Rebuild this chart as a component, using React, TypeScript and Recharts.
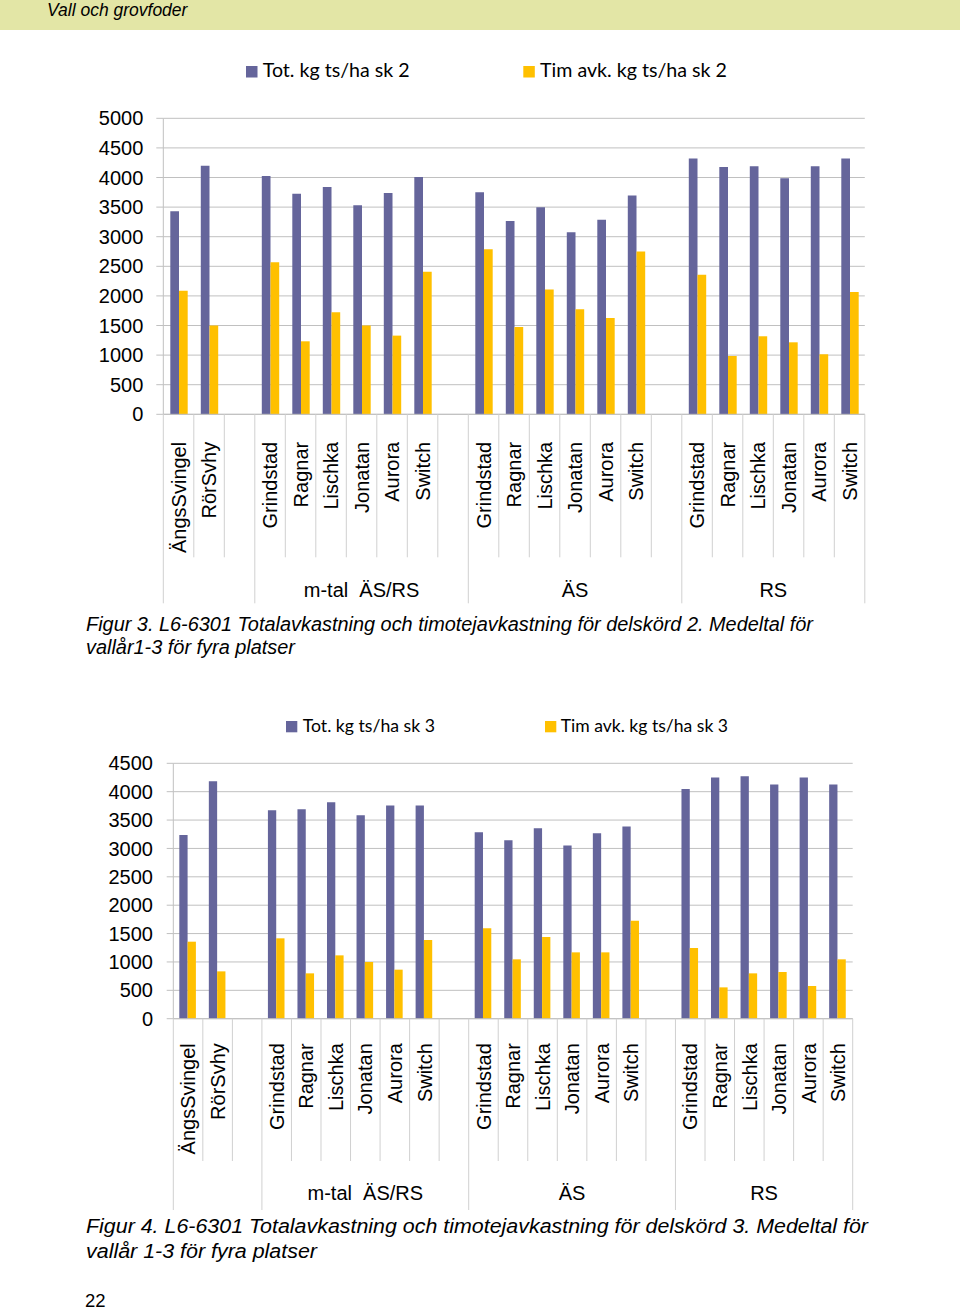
import React from 'react';
import { BarChart, Bar, XAxis, YAxis, CartesianGrid, Legend } from 'recharts';

// ---- data ----
const categories = [
  'ÄngsSvingel', 'RörSvhy', '',
  'Grindstad', 'Ragnar', 'Lischka', 'Jonatan', 'Aurora', 'Switch', '',
  'Grindstad', 'Ragnar', 'Lischka', 'Jonatan', 'Aurora', 'Switch', '',
  'Grindstad', 'Ragnar', 'Lischka', 'Jonatan', 'Aurora', 'Switch',
];
const groupLabels = ['', 'm-tal  ÄS/RS', 'ÄS', 'RS'];
const groupSizes = [3, 7, 7, 6];

const totSk2 = [3429, 4200, null, 4026, 3727, 3840, 3530, 3739, 4009, null, 3750, 3266, 3497, 3074, 3288, 3694, null, 4319, 4178, 4189, 3986, 4189, 4319];
const timSk2 = [2089, 1498, null, 2568, 1233, 1723, 1498, 1329, 2410, null, 2787, 1475, 2106, 1774, 1627, 2748, null, 2359, 985, 1318, 1216, 1014, 2066];
const totSk3 = [3237, 4184, null, 3672, 3690, 3813, 3584, 3755, 3755, null, 3285, 3144, 3355, 3050, 3267, 3385, null, 4049, 4249, 4272, 4125, 4249, 4125];
const timSk3 = [1357, 834, null, 1416, 799, 1116, 999, 864, 1387, null, 1592, 1046, 1440, 1169, 1169, 1728, null, 1246, 552, 799, 823, 576, 1046];

const yTicksSk2 = [0, 500, 1000, 1500, 2000, 2500, 3000, 3500, 4000, 4500, 5000];
const yTicksSk3 = [0, 500, 1000, 1500, 2000, 2500, 3000, 3500, 4000, 4500];

const namesSk2 = ['Tot. kg ts/ha sk 2', 'Tim avk. kg ts/ha sk 2'];
const namesSk3 = ['Tot. kg ts/ha sk 3', 'Tim avk. kg ts/ha sk 3'];

// ---- styles ----
const BLUE = '#65659b';
const YELLOW = '#ffc000';
const GRID = '#c0c0c0';
const SEP = '#d0d0d0';
const BAND = '#e3e6a6';
const ARIAL = '"Liberation Sans", Arial, Helvetica, sans-serif';
const CALIBRI = 'Lato, "Open Sans", sans-serif';

const groupStarts: number[] = groupSizes.reduce((acc: number[], s, i) => {
  acc.push(i === 0 ? 0 : acc[i - 1] + groupSizes[i - 1]);
  return acc;
}, []);

const buildRows = (tot: (number | null)[], tim: (number | null)[]) =>
  categories.map((name, i) => ({ key: `c${i}`, name, tot: tot[i], tim: tim[i] }));

type Cfg = {
  top: number;
  height: number;
  marginTop: number;
  marginLeft: number;
  marginRight: number;
  yAxisWidth: number;
  xAxisHeight: number;
  yMax: number;
  yTicks: number[];
  yTickSize: number;
  yTickMargin: number;
  barSize: number;
  catLen: number;
  groupLen: number;
  labelOff: number;
  groupBase: number;
  legendSq: number[][];
  legendText: number[][];
  legendBase: number;
  legendSize: number;
  legendFont: number;
  names: string[];
  tot: (number | null)[];
  tim: (number | null)[];
};

const W = 960;
const SERIES_COLORS = [BLUE, YELLOW];

function ChartBlock({ cfg }: { cfg: Cfg }) {
  const data = buildRows(cfg.tot, cfg.tim);
  const plotW = W - cfg.marginLeft - cfg.yAxisWidth - cfg.marginRight;
  const slot = plotW / categories.length;

  const renderTick = (props: any) => {
    const { x, y, payload } = props;
    const i: number = payload && payload.index != null ? payload.index : props.index;
    const left = x - slot / 2;
    const gi = groupStarts.indexOf(i);
    const isStart = gi >= 0;
    const last = i === categories.length - 1;
    const label = categories[i];
    const ly = y + cfg.labelOff;
    return (
      <g>
        <line x1={left} y1={y} x2={left} y2={y + (isStart ? cfg.groupLen : cfg.catLen)} stroke={SEP} strokeWidth={1} />
        {last && (
          <line x1={left + slot} y1={y} x2={left + slot} y2={y + cfg.groupLen} stroke={SEP} strokeWidth={1} />
        )}
        {label ? (
          <text
            x={x}
            y={ly}
            dy="0.36em"
            textAnchor="end"
            transform={`rotate(-90, ${x}, ${ly})`}
            fontSize={20}
            fontFamily={ARIAL}
            fill="#000"
          >
            {label}
          </text>
        ) : null}
        {isStart && groupLabels[gi] ? (
          <text
            x={left + (groupSizes[gi] * slot) / 2}
            y={y + cfg.groupBase}
            textAnchor="middle"
            fontSize={20}
            fontFamily={ARIAL}
            fill="#000"
            style={{ whiteSpace: 'pre' }}
          >
            {groupLabels[gi]}
          </text>
        ) : null}
      </g>
    );
  };

  const renderLegend = (props: any) => {
    const payload: any[] = props.payload || [];
    return (
      <svg width={W} height={cfg.legendBase + 10} style={{ display: 'block' }}>
        {cfg.names.map((name, k) => {
          const item = payload.find((p) => p.value === name);
          const color = item && item.color ? item.color : SERIES_COLORS[k];
          return (
            <g key={k}>
              <rect
                x={cfg.legendSq[k][0]}
                y={cfg.legendSq[k][1]}
                width={cfg.legendSize}
                height={cfg.legendSize}
                fill={color}
              />
              <text
                x={cfg.legendText[k][0]}
                y={cfg.legendBase}
                textLength={cfg.legendText[k][1]}
                lengthAdjust="spacingAndGlyphs"
                fontSize={cfg.legendFont}
                fontFamily={CALIBRI}
                fill="#000"
              >
                {name}
              </text>
            </g>
          );
        })}
      </svg>
    );
  };

  return (
    <div style={{ position: 'absolute', left: 0, top: cfg.top, width: W, height: cfg.height }}>
      <BarChart
        width={W}
        height={cfg.height}
        data={data}
        barGap={0}
        margin={{ top: cfg.marginTop, right: cfg.marginRight, bottom: 0, left: cfg.marginLeft }}
      >
        <CartesianGrid vertical={false} stroke={GRID} strokeWidth={1} />
        <XAxis
          dataKey="key"
          interval={0}
          height={cfg.xAxisHeight}
          tickLine={false}
          tickSize={0}
          tickMargin={0}
          axisLine={{ stroke: GRID }}
          tick={renderTick}
        />
        <YAxis
          width={cfg.yAxisWidth}
          domain={[0, cfg.yMax]}
          ticks={cfg.yTicks}
          interval={0}
          tickSize={cfg.yTickSize}
          tickMargin={cfg.yTickMargin}
          axisLine={{ stroke: GRID }}
          tickLine={{ stroke: GRID }}
          tick={{ fontSize: 20, fill: '#000', fontFamily: ARIAL }}
        />
        <Legend
          layout="horizontal"
          verticalAlign="middle"
          align="center"
          wrapperStyle={{ top: 0, left: 0, width: W, lineHeight: 0 }}
          content={renderLegend}
        />
        <Bar dataKey="tot" name={cfg.names[0]} fill={BLUE} barSize={cfg.barSize} isAnimationActive={false} />
        <Bar dataKey="tim" name={cfg.names[1]} fill={YELLOW} barSize={cfg.barSize} isAnimationActive={false} />
      </BarChart>
    </div>
  );
}

const cfg1: Cfg = {
  top: 0,
  height: 610,
  marginTop: 118.3,
  marginLeft: 103.3,
  marginRight: 95.2,
  yAxisWidth: 60,
  xAxisHeight: 195.7,
  yMax: 5000,
  yTicks: yTicksSk2,
  yTickSize: 7,
  yTickMargin: 13,
  barSize: 8.7,
  catLen: 143,
  groupLen: 189,
  labelOff: 27.5,
  groupBase: 183,
  legendSq: [[246, 66], [523.3, 66]],
  legendText: [[262.7, 147], [540, 187]],
  legendBase: 77.3,
  legendSize: 11.5,
  legendFont: 19,
  names: namesSk2,
  tot: totSk2,
  tim: timSk2,
};

const cfg2: Cfg = {
  top: 690,
  height: 525,
  marginTop: 73.3,
  marginLeft: 113.3,
  marginRight: 107.3,
  yAxisWidth: 60,
  xAxisHeight: 196.3,
  yMax: 4500,
  yTicks: yTicksSk3,
  yTickSize: 6.6,
  yTickMargin: 13.7,
  barSize: 8.3,
  catLen: 142.3,
  groupLen: 191.3,
  labelOff: 24.5,
  groupBase: 181.5,
  legendSq: [[286, 31], [545, 31]],
  legendText: [[302.7, 132.3], [560.7, 167.3]],
  legendBase: 42.3,
  legendSize: 11.3,
  legendFont: 17.5,
  names: namesSk3,
  tot: totSk3,
  tim: timSk3,
};

export default function App() {
  return (
    <div
      style={{
        position: 'absolute',
        left: 0,
        top: 0,
        width: W,
        height: 1312,
        background: '#ffffff',
        overflow: 'hidden',
      }}
    >
      <div style={{ position: 'absolute', left: 0, top: 0, width: W, height: 30, background: BAND }} />
      <svg width={W} height={1312} style={{ position: 'absolute', left: 0, top: 0 }}>
        <text x={47} y={16} fontSize={17.5} fontStyle="italic" fontFamily={ARIAL} fill="#000">
          Vall och grovfoder
        </text>
        <text
          x={86}
          y={631}
          fontSize={20}
          fontStyle="italic"
          fontFamily={ARIAL}
          fill="#000"
          textLength={727}
          lengthAdjust="spacingAndGlyphs"
        >
          Figur 3. L6-6301 Totalavkastning och timotejavkastning för delskörd 2. Medeltal för
        </text>
        <text
          x={86}
          y={653.5}
          fontSize={20}
          fontStyle="italic"
          fontFamily={ARIAL}
          fill="#000"
          textLength={209}
          lengthAdjust="spacingAndGlyphs"
        >
          vallår1-3 för fyra platser
        </text>
        <text
          x={86}
          y={1233}
          fontSize={20}
          fontStyle="italic"
          fontFamily={ARIAL}
          fill="#000"
          textLength={782}
          lengthAdjust="spacingAndGlyphs"
        >
          Figur 4. L6-6301 Totalavkastning och timotejavkastning för delskörd 3. Medeltal för
        </text>
        <text
          x={86}
          y={1258.3}
          fontSize={20}
          fontStyle="italic"
          fontFamily={ARIAL}
          fill="#000"
          textLength={231}
          lengthAdjust="spacingAndGlyphs"
        >
          vallår 1-3 för fyra platser
        </text>
        <text x={85} y={1307} fontSize={18.5} fontFamily={ARIAL} fill="#000">
          22
        </text>
      </svg>
      <ChartBlock cfg={cfg1} />
      <ChartBlock cfg={cfg2} />
    </div>
  );
}
